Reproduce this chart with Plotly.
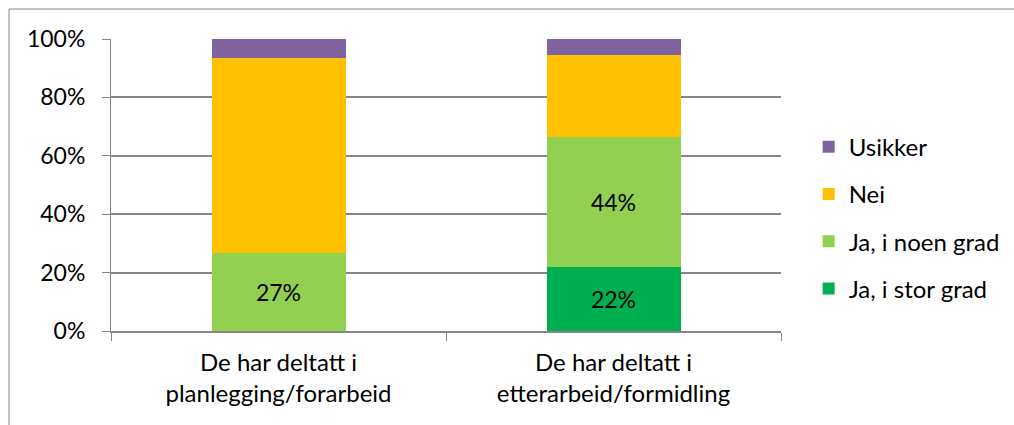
import plotly.graph_objects as go

categories = ["De har deltatt i<br>planlegging/forarbeid", "De har deltatt i<br>etterarbeid/formidling"]
series_names = ["Ja, i stor grad", "Ja, i noen grad", "Nei", "Usikker"]
ja_stor = [0.0, 22.0]
ja_noen = [26.6, 44.5]
nei = [66.9, 28.0]
usikker = [6.5, 5.5]
labels_stor = ["", "22%"]
labels_noen = ["27%", "44%"]
colors = ["#00B050", "#92D050", "#FFC000", "#8064A2"]
legend_ranks = [4, 3, 2, 1]
y_ticks = [0, 20, 40, 60, 80, 100]
y_tick_labels = ["0%", "20%", "40%", "60%", "80%", "100%"]

font_family = "Lato, 'Open Sans', sans-serif"

values = [ja_stor, ja_noen, nei, usikker]
texts = [labels_stor, labels_noen, ["", ""], ["", ""]]

fig = go.Figure()
for i, (name, vals, txt) in enumerate(zip(series_names, values, texts)):
    fig.add_trace(go.Bar(
        x=categories, y=vals, name=name,
        marker=dict(color=colors[i], line=dict(width=0)),
        text=txt, textposition="inside", insidetextanchor="middle",
        textfont=dict(size=23, color="black", family=font_family),
        legendgroup=name, legendrank=legend_ranks[i], hoverinfo="skip",
    ))

fig.update_layout(
    barmode="stack",
    bargap=0.6,
    width=1014, height=425,
    margin=dict(l=111, r=233, t=39, b=94, autoexpand=False),
    paper_bgcolor="white", plot_bgcolor="white",
    font=dict(family=font_family, size=24, color="black"),
    uniformtext=dict(mode="show", minsize=10),
    legend=dict(
        traceorder="grouped", tracegroupgap=13,
        xref="container", x=0.7975, y=0.388, xanchor="left", yanchor="middle",
        font=dict(size=24, family=font_family, color="black"),
        itemwidth=30, bgcolor="rgba(0,0,0,0)",
    ),
    xaxis=dict(
        showline=True, linecolor="#868686", linewidth=2,
        ticks="outside", tickson="boundaries", ticklen=8, tickcolor="#868686",
        tickwidth=1, tickfont=dict(size=24), showgrid=False,
        ticklabelstandoff=9,
    ),
    yaxis=dict(
        range=[0, 100], tickvals=y_ticks, ticktext=y_tick_labels,
        showline=True, linecolor="#868686", linewidth=1,
        ticks="outside", ticklen=8, tickcolor="#868686",
        showgrid=True, gridcolor="#868686", gridwidth=1.5,
        tickfont=dict(size=23), zeroline=False,
        ticklabelstandoff=12,
    ),
    shapes=[dict(
        type="rect", xref="paper", yref="paper",
        x0=-0.1522, x1=1.5, y0=-0.5, y1=1.1027,
        line=dict(color="#868686", width=1), fillcolor="rgba(0,0,0,0)",
        layer="below",
    )],
)

fig.write_html(
    "out.html",
    config={"displayModeBar": False},
    post_script="document.body.style.margin='0';document.body.style.overflow='hidden';",
)
